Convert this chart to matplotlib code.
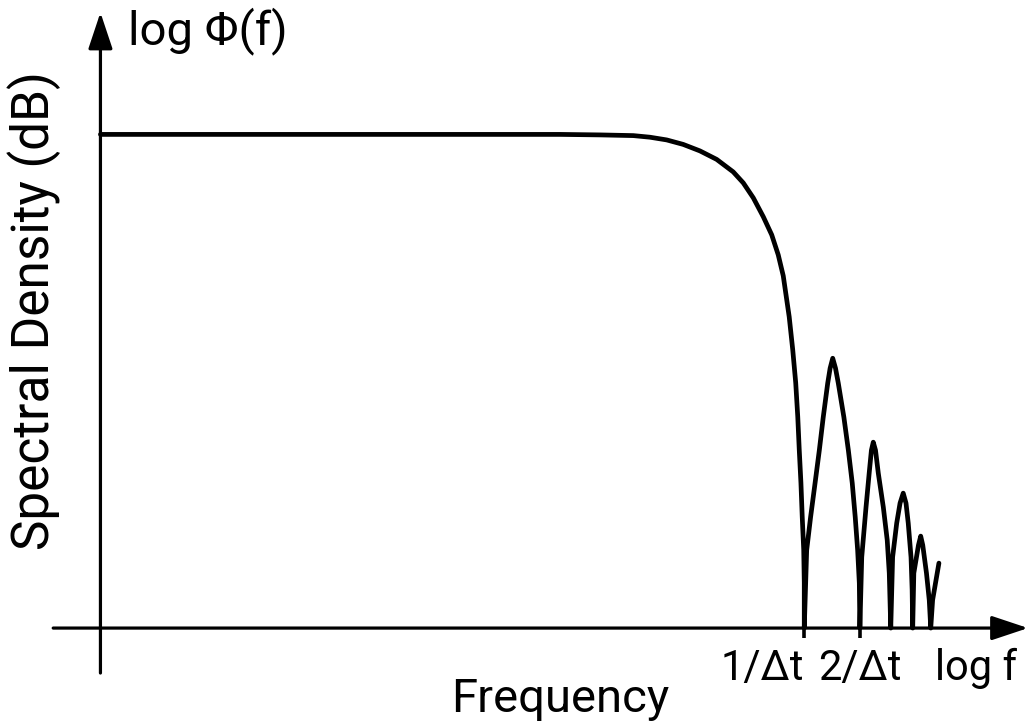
import matplotlib
matplotlib.use("Agg")
import matplotlib.pyplot as plt

plt.rcParams['font.family'] = ['Roboto', 'DejaVu Sans']

# x: log10(f * dt) in decades, y: spectral level in dB (0 dB = low-frequency plateau)
main_x = [-3.784, -1.313, -1.098, -0.919, -0.830, -0.740, -0.651, -0.561, -0.471, -0.382,
          -0.328, -0.274, -0.220, -0.175, -0.140, -0.113, -0.081, -0.062, -0.046, -0.035,
          -0.027, -0.018, -0.011, -0.003, 0.000, 0.000]
main_y = [0.0, 0.0, -0.05, -0.12, -0.28, -0.55, -1.0, -1.65, -2.5, -3.75,
          -4.85, -6.35, -8.25, -10.05, -12.05, -14.15, -18.25, -21.55, -24.85, -28.25,
          -31.55, -34.85, -38.25, -41.55, -44.85, -49.4]

lobe1_x = [0.000, 0.013, 0.034, 0.058, 0.081, 0.102, 0.126, 0.139, 0.153, 0.168, 0.183,
           0.213, 0.237, 0.258, 0.274, 0.287, 0.296, 0.299]
lobe1_y = [-49.4, -41.6, -38.3, -34.9, -31.6, -28.3, -24.9, -23.4, -22.4, -23.4, -24.9,
           -28.3, -31.6, -34.9, -38.3, -41.6, -44.9, -49.4]

lobe2_x = [0.299, 0.309, 0.332, 0.349, 0.361, 0.371, 0.383, 0.398, 0.425, 0.446, 0.457, 0.465]
lobe2_y = [-49.4, -42.3, -37.3, -33.9, -31.6, -30.8, -31.6, -33.9, -37.3, -40.6, -43.9, -49.4]

lobe3_x = [0.465, 0.475, 0.497, 0.515, 0.532, 0.547, 0.559, 0.574, 0.580, 0.583]
lobe3_y = [-49.4, -42.3, -38.9, -36.9, -35.9, -36.9, -38.9, -42.3, -45.6, -49.4]

lobe4_x = [0.583, 0.589, 0.614, 0.626, 0.637, 0.657, 0.672, 0.680]
lobe4_y = [-49.4, -43.9, -41.1, -40.2, -41.1, -43.9, -46.6, -49.4]

tail_x = [0.680, 0.690, 0.724]
tail_y = [-49.4, -46.6, -42.9]

tick_x = [0.000, 0.299]
tick_labels = ['1/Δt', '2/Δt']

AXIS_LEVEL = -49.4
Y_AXIS_X = -3.784

fig = plt.figure(figsize=(10.31, 7.25), dpi=100)
ax = fig.add_axes([0, 0, 1, 1])
ax.set_xlim(-4.324, 1.219)
ax.set_ylim(-59.1, 13.45)
ax.axis('off')

curve_x = main_x + lobe1_x + lobe2_x + lobe3_x + lobe4_x + tail_x
curve_y = main_y + lobe1_y + lobe2_y + lobe3_y + lobe4_y + tail_y
ax.plot(curve_x, curve_y, color='black', lw=3.4, solid_joinstyle='round',
        solid_capstyle='round', zorder=3)

arrow = dict(arrowstyle='-|>,head_length=1.5,head_width=0.5', mutation_scale=15,
             lw=2.3, color='black', shrinkA=0, shrinkB=0)
# x axis
ax.annotate('', xy=(1.203, AXIS_LEVEL), xytext=(-4.038, AXIS_LEVEL), arrowprops=arrow)
# y axis
ax.annotate('', xy=(Y_AXIS_X, 12.2), xytext=(Y_AXIS_X, -53.9), arrowprops=arrow)

# tick marks below axis
ax.vlines(tick_x, AXIS_LEVEL - 1.0, AXIS_LEVEL, color='black', lw=2.6)

ax.text(tick_x[0] - 0.004, -54.6, tick_labels[0], ha='right', va='baseline', fontsize=30)
ax.text(tick_x[1], -54.6, tick_labels[1], ha='center', va='baseline', fontsize=30)
ax.text(0.923, -54.6, 'log f', ha='center', va='baseline', fontsize=30)

ax.text(-1.313, -57.8, 'Frequency', ha='center', va='baseline', fontsize=34)
ax.text(-3.635, 9.0, 'log Φ(f)', ha='left', va='baseline', fontsize=34)
fig.text(34 / 1031, 1 - 311 / 725, 'Spectral Density (dB)', rotation=90,
         ha='center', va='center', fontsize=37)

fig.savefig('out.png', dpi=100, facecolor='white')
